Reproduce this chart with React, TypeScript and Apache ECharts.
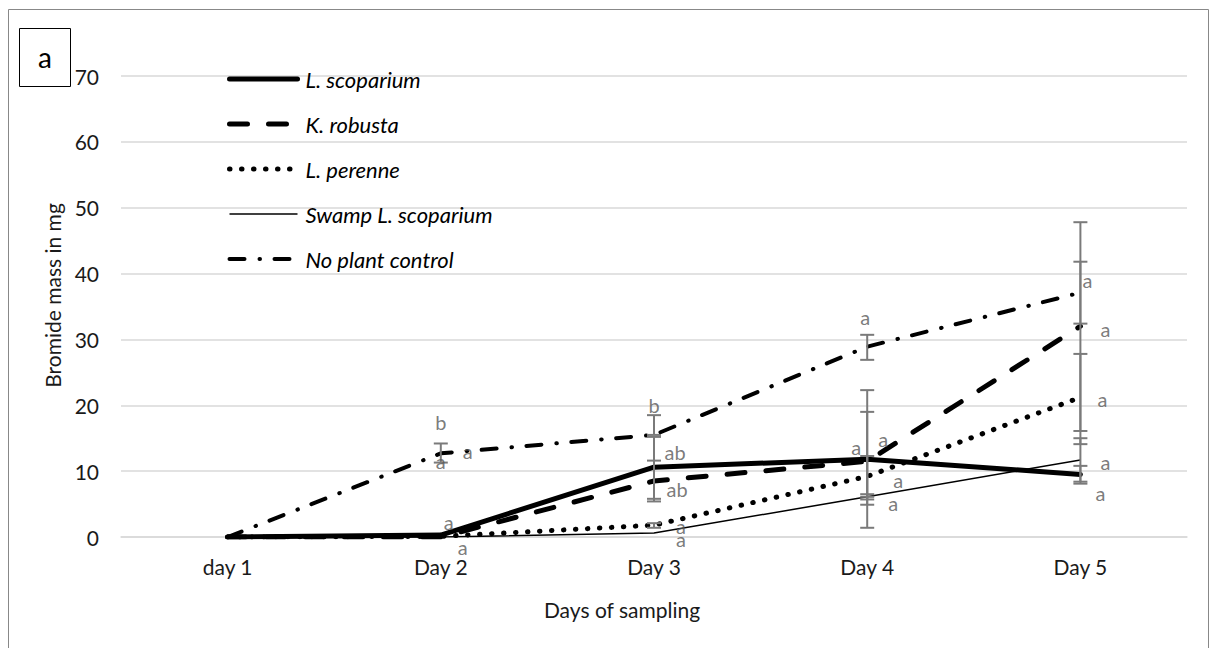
import React, { useEffect, useRef } from "react";
import * as echarts from "echarts";

// Sampling days (category axis)
const days = ["day 1", "Day 2", "Day 3", "Day 4", "Day 5"];

// Mean bromide mass (mg) per treatment
const lScoparium = [0, 0.3, 10.6, 11.8, 9.5];
const kRobusta = [0, 0, 8.5, 11.5, 32.0];
const lPerenne = [0, 0.1, 1.8, 9.2, 21.2];
const swampLScoparium = [0, 0, 0.6, 6.1, 11.7];
const noPlantControl = [0, 12.7, 15.5, 28.9, 37.1];

// Error bar ranges [low, high] per day (null = no bar)
type Range = [number, number] | null;
const lScopariumErr: Range[] = [null, null, [5.8, 15.2], [1.4, 22.3], [8.1, 10.8]];
const kRobustaErr: Range[] = [null, null, [5.4, 11.6], [4.9, 19.0], [16.1, 47.8]];
const lPerenneErr: Range[] = [null, null, [1.4, 2.1], [6.1, 12.3], [14.1, 27.8]];
const swampErr: Range[] = [null, null, null, [5.7, 6.5], [8.4, 15.0]];
const noPlantErr: Range[] = [null, [11.3, 14.2], [15.5, 18.5], [26.9, 30.7], [32.4, 41.8]];

// Significance letters per day
const lScopariumLetters = ["", "a", "ab", "a", "a"];
const kRobustaLetters = ["", "a", "ab", "a", "a"];
const lPerenneLetters = ["", "a", "a", "a", "a"];
const swampLetters = ["", "a", "a", "a", "a"];
const noPlantLetters = ["", "b", "b", "a", "a"];

// Y axis range
const yMin = 0;
const yMax = 70;
const yStep = 10;

const FONT = "Lato, 'Noto Sans', sans-serif";

// Pixel offsets of each letter from its point
const letterOffsets: Record<string, [number, number][]> = {
  ls: [[0, 0], [8, -13], [21, -15], [-11, -12], [20, 19]],
  kr: [[0, 0], [22, 10], [23, 8], [16, -22], [25, 3]],
  lp: [[0, 0], [0, -75], [27, 1], [31, 4], [22, 2]],
  sw: [[0, 0], [27, -86], [27, 6], [26, 6], [25, 2]],
  np: [[0, 0], [0, -31], [0, -30], [-2, -30], [7, -13]],
};

const treatments = [
  {
    key: "ls",
    name: "L. scoparium",
    values: lScoparium,
    err: lScopariumErr,
    letters: lScopariumLetters,
    lineStyle: { color: "#000", width: 5, type: "solid" as any, cap: "round" as const },
    z: 5,
  },
  {
    key: "kr",
    name: "K. robusta",
    values: kRobusta,
    err: kRobustaErr,
    letters: kRobustaLetters,
    lineStyle: { color: "#000", width: 5, type: [18, 21] as any, cap: "round" as const },
    z: 4,
  },
  {
    key: "lp",
    name: "L. perenne",
    values: lPerenne,
    err: lPerenneErr,
    letters: lPerenneLetters,
    lineStyle: { color: "#000", width: 5, type: [0.5, 11.5] as any, cap: "round" as const },
    z: 3,
  },
  {
    key: "sw",
    name: "Swamp L. scoparium",
    values: swampLScoparium,
    err: swampErr,
    letters: swampLetters,
    lineStyle: { color: "#000", width: 1.5, type: "solid" as any, cap: "butt" as const },
    z: 3,
  },
  {
    key: "np",
    name: "No plant control",
    values: noPlantControl,
    err: noPlantErr,
    letters: noPlantLetters,
    lineStyle: { color: "#000", width: 4, type: [15, 15, 0.5, 14.5] as any, cap: "round" as const },
    z: 3,
  },
];

export default function App() {
  const ref = useRef<HTMLDivElement>(null);

  useEffect(() => {
    if (!ref.current) return;
    const chart = echarts.init(ref.current, undefined, { renderer: "svg" });

    const lineSeries = treatments.map((t) => ({
      name: t.name,
      type: "line",
      data: t.values,
      symbol: "none",
      showSymbol: false,
      lineStyle: t.lineStyle,
      itemStyle: { color: "#000" },
      z: t.z,
      silent: true,
    }));

    const errData: number[][] = [];
    treatments.forEach((t) => {
      t.err.forEach((r, i) => {
        if (r) errData.push([i, r[0], r[1]]);
      });
    });

    const errorSeries = {
      name: "error",
      type: "custom",
      data: errData,
      z: 6,
      silent: true,
      renderItem: (_params: any, api: any) => {
        const x = api.value(0);
        const lo = api.coord([x, api.value(1)]);
        const hi = api.coord([x, api.value(2)]);
        const half = 7;
        const style = { stroke: "#7a7a7a", lineWidth: 2 };
        return {
          type: "group",
          children: [
            { type: "line", shape: { x1: lo[0], y1: lo[1], x2: hi[0], y2: hi[1] }, style },
            { type: "line", shape: { x1: lo[0] - half, y1: lo[1], x2: lo[0] + half, y2: lo[1] }, style },
            { type: "line", shape: { x1: hi[0] - half, y1: hi[1], x2: hi[0] + half, y2: hi[1] }, style },
          ],
        };
      },
    };

    const letterData: any[] = [];
    treatments.forEach((t) => {
      t.letters.forEach((letter, i) => {
        if (!letter) return;
        letterData.push({
          value: [i, t.values[i]],
          label: {
            show: true,
            formatter: letter,
            offset: letterOffsets[t.key][i],
          },
        });
      });
    });

    const letterSeries = {
      name: "letters",
      type: "scatter",
      data: letterData,
      symbolSize: 0,
      z: 7,
      silent: true,
      label: {
        show: true,
        position: "inside",
        color: "#595959",
        fontSize: 20,
        fontFamily: FONT,
        align: "center",
        verticalAlign: "middle",
      },
    };

    chart.setOption({
      animation: false,
      backgroundColor: "#fff",
      textStyle: { fontFamily: FONT },
      grid: { left: 121, right: 26, top: 76, bottom: 111, containLabel: false },
      legend: {
        orient: "vertical",
        left: 222,
        top: 61,
        itemWidth: 68,
        itemHeight: 14,
        itemGap: 19,
        selectedMode: false,
        data: treatments.map((t) => ({
          name: t.name,
          itemStyle: { opacity: 0 },
          lineStyle: { ...t.lineStyle },
        })),
        textStyle: {
          color: "#000",
          fontStyle: "italic",
          fontSize: 22,
          fontFamily: FONT,
          lineHeight: 26,
          padding: [0, 0, 0, 3],
        },
      },
      xAxis: {
        type: "category",
        data: days,
        boundaryGap: true,
        axisLine: { show: true, lineStyle: { color: "#d9d9d9", width: 1.5 } },
        axisTick: { show: false },
        axisLabel: { color: "#1a1a1a", fontSize: 21, fontFamily: FONT, margin: 19 },
        name: "Days of sampling",
        nameLocation: "middle",
        nameGap: 62,
        nameMoveOverlap: false,
        nameTextStyle: {
          color: "#1a1a1a",
          fontSize: 21,
          fontFamily: FONT,
          padding: [0, 64, 0, 0],
        },
      },
      yAxis: {
        type: "value",
        min: yMin,
        max: yMax,
        interval: yStep,
        axisLine: { show: false },
        axisTick: { show: false },
        splitLine: { lineStyle: { color: "#d9d9d9", width: 1.5 } },
        axisLabel: { color: "#1a1a1a", fontSize: 21, fontFamily: FONT, margin: 22 },
        name: "Bromide mass in mg",
        nameLocation: "middle",
        nameGap: 58,
        nameMoveOverlap: false,
        nameTextStyle: {
          color: "#1a1a1a",
          fontSize: 21,
          fontFamily: FONT,
          padding: [0, 0, 0, 22],
        },
      },
      graphic: [
        {
          type: "rect",
          left: 6,
          top: 7,
          shape: { x: 0, y: 0, width: 1200, height: 660 },
          style: { fill: "none", stroke: "#888", lineWidth: 1 },
          silent: true,
        },
        {
          type: "rect",
          left: 19,
          top: 28,
          shape: { x: 0, y: 0, width: 51, height: 58 },
          style: { fill: "#fff", stroke: "#000", lineWidth: 1 },
          silent: true,
        },
        {
          type: "text",
          x: 45,
          y: 57,
          style: {
            text: "a",
            fill: "#000",
            fontSize: 28,
            fontFamily: FONT,
            align: "center",
            verticalAlign: "middle",
          },
          silent: true,
        },
      ],
      series: [...lineSeries, errorSeries, letterSeries],
    });

    return () => chart.dispose();
  }, []);

  return (
    <div
      ref={ref}
      style={{ position: "fixed", left: 0, top: 0, width: 1213, height: 648, background: "#fff" }}
    />
  );
}
